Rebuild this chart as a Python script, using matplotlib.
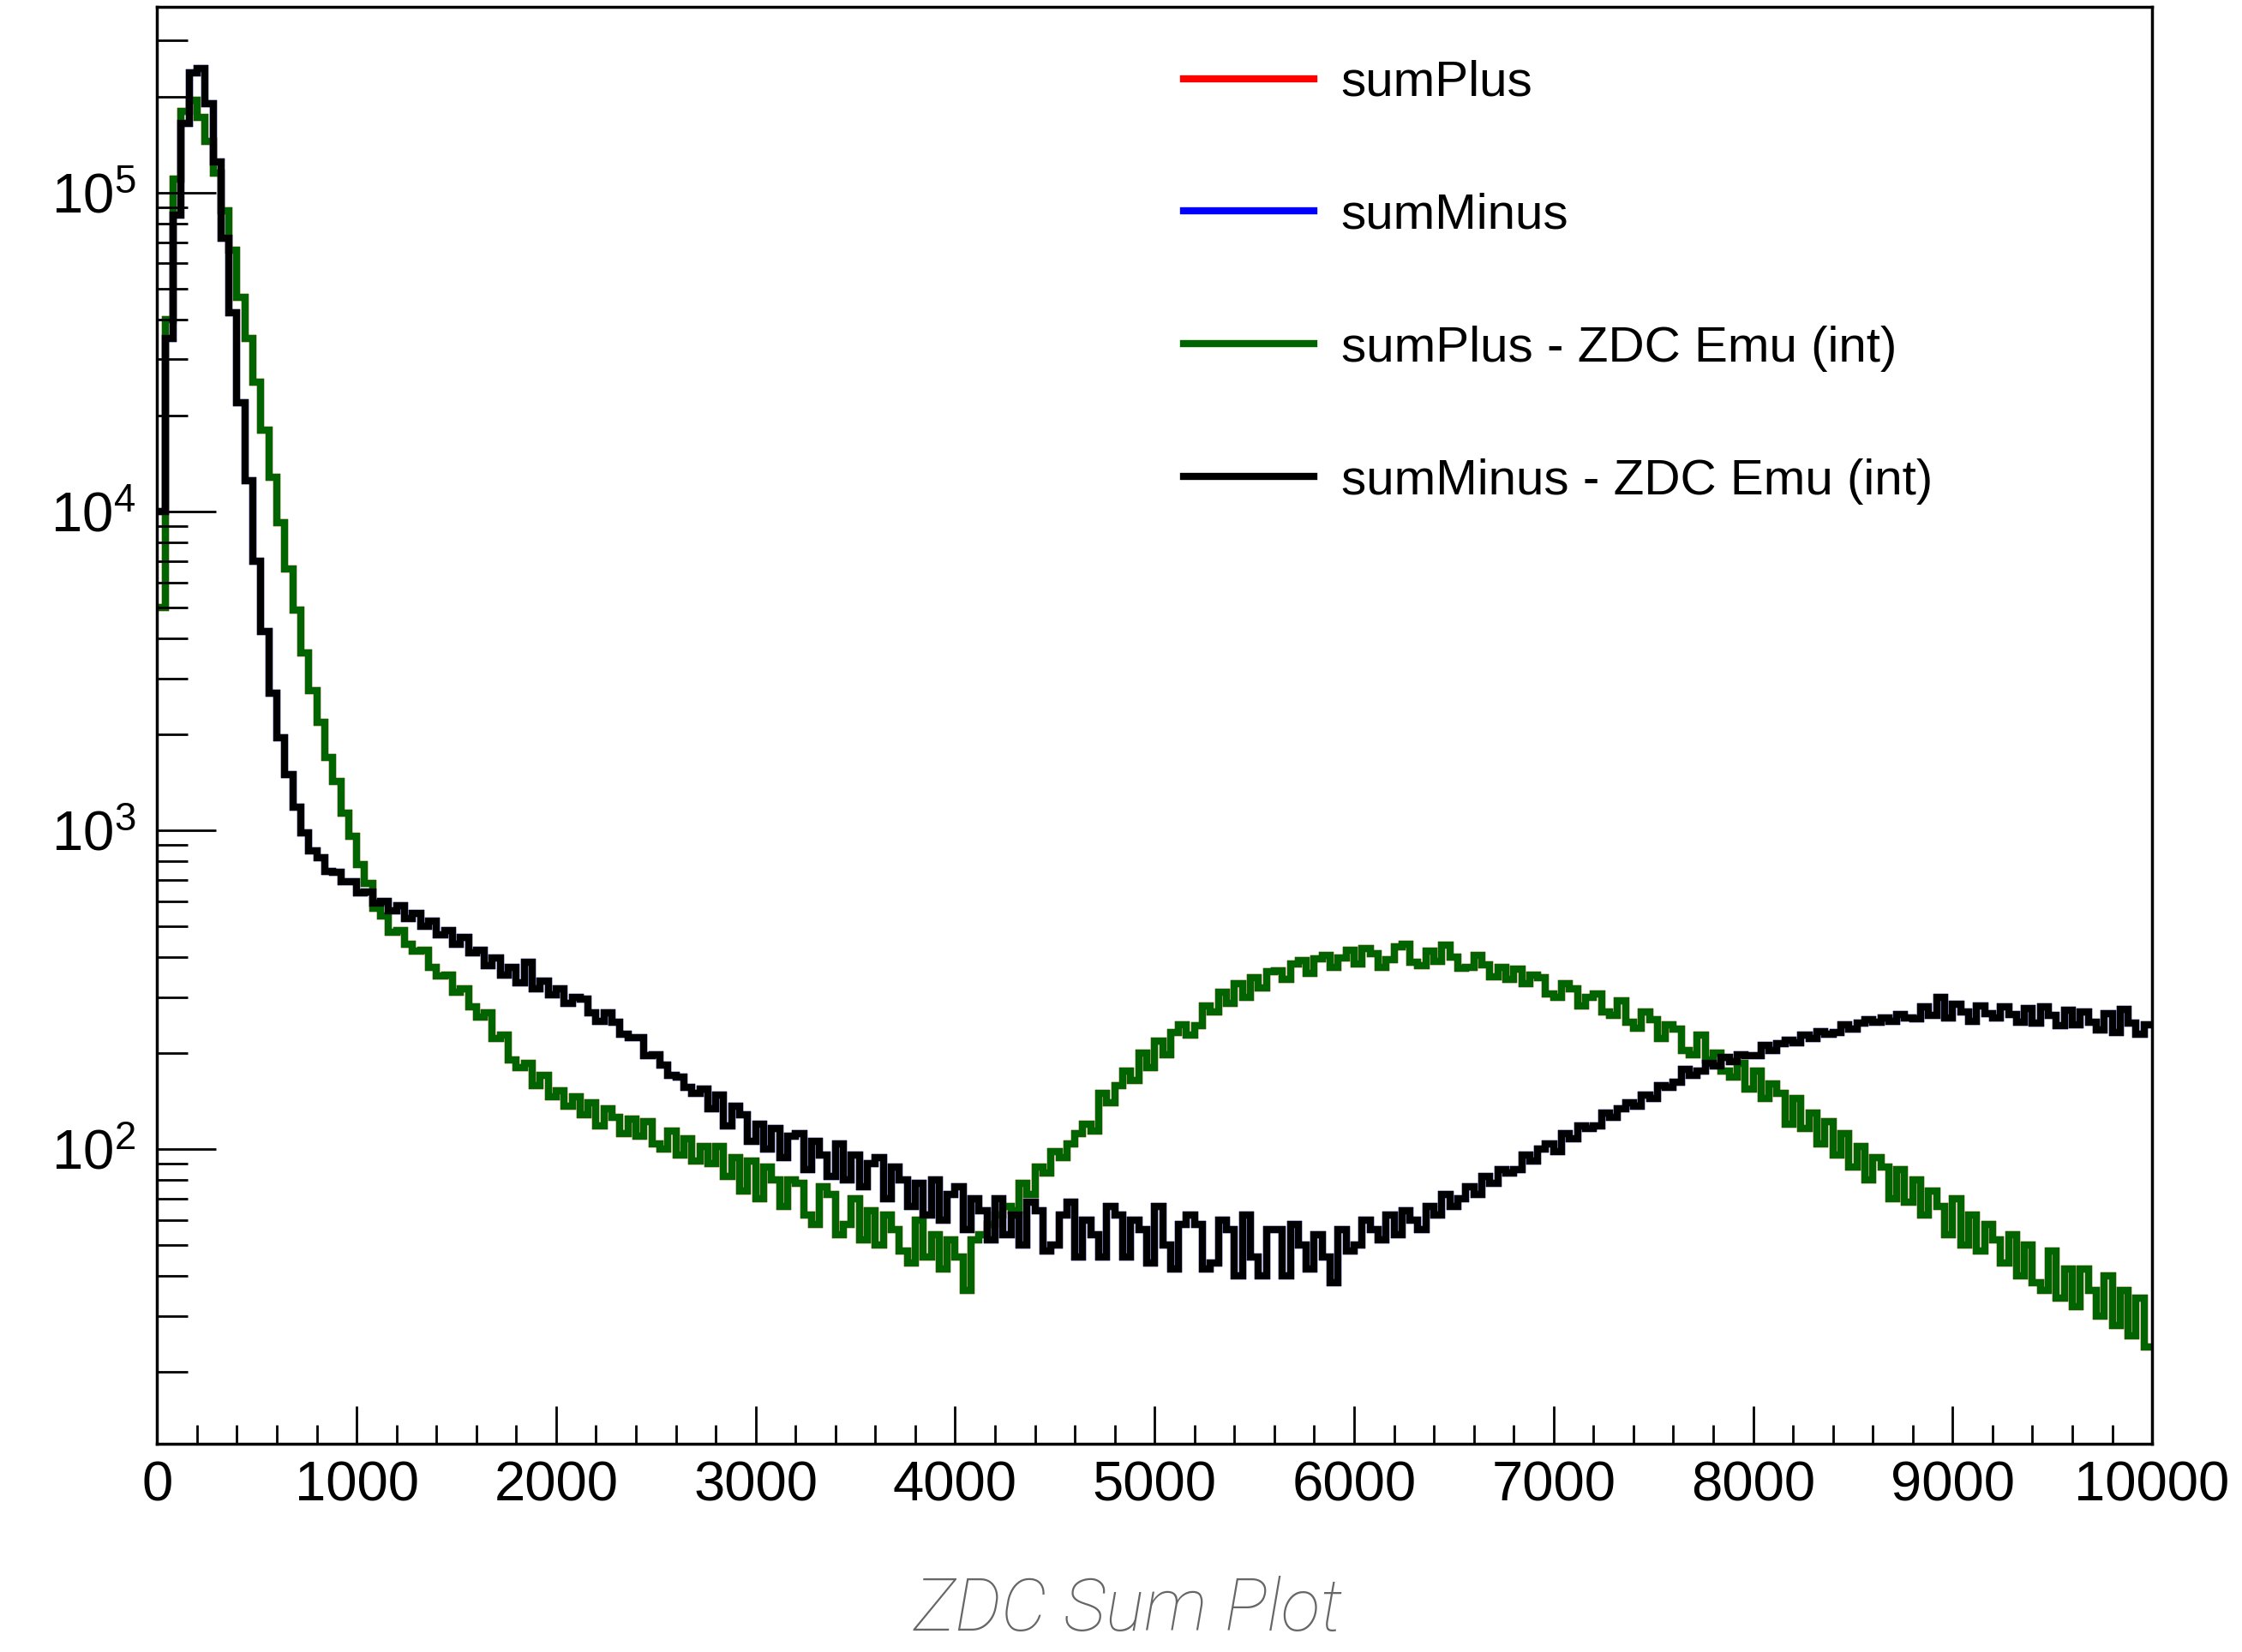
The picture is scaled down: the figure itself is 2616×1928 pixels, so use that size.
import numpy as np
import matplotlib
matplotlib.use("Agg")
import matplotlib.pyplot as plt
from matplotlib.ticker import LogLocator, MultipleLocator, NullFormatter

plt.rcParams['font.family'] = ['Liberation Sans', 'DejaVu Sans']
plt.rcParams['mathtext.fontset'] = 'custom'
plt.rcParams['mathtext.rm'] = 'Liberation Sans'

# histogram binning (ZDC sum, 250 bins over 0-10000)
bin_width = 40
x_max = 10000

# sumPlus - ZDC Emu (int), one row = 400 counts of x
sum_plus = [
    5000, 40000, 110000, 180000, 195000, 172000, 145000, 115000, 88000, 66000,
    47000, 35000, 25500, 18000, 12800, 9200, 6600, 4900, 3600, 2750,
    2180, 1690, 1420, 1130, 960, 780, 680, 570, 540, 480,
    485, 440, 418, 420, 372, 350, 352, 310, 318, 280,
    260, 268, 222, 228, 190, 180, 186, 158, 170, 146,
    152, 136, 146, 128, 140, 118, 134, 126, 112, 124,
    110, 122, 104, 100, 114, 96, 108, 92, 102, 90,
    102, 82, 94, 74, 92, 70, 88, 80, 66, 80,
    78, 62, 58, 76, 72, 54, 58, 70, 52, 64,
    50, 62, 56, 48, 44, 60, 46, 54, 42, 52,
    46, 36, 52, 54, 58, 62, 66, 64, 78, 72,
    88, 84, 98, 94, 104, 112, 120, 114, 150, 140,
    158, 176, 164, 200, 180, 218, 198, 232, 246, 228,
    244, 282, 270, 310, 286, 330, 300, 346, 320, 360,
    362, 340, 380, 390, 356, 396, 404, 372, 398, 420,
    380, 425, 410, 372, 392, 430, 440, 386, 376, 418,
    388, 436, 400, 370, 372, 404, 378, 348, 372, 340,
    366, 330, 352, 344, 306, 300, 330, 318, 282, 300,
    306, 270, 262, 292, 250, 240, 270, 254, 222, 246,
    238, 204, 198, 228, 190, 200, 176, 168, 186, 154,
    176, 144, 160, 150, 120, 144, 116, 130, 104, 122,
    96, 112, 88, 102, 80, 94, 88, 70, 86, 68,
    80, 62, 74, 66, 54, 70, 50, 62, 48, 58,
    52, 44, 54, 40, 50, 38, 36, 48, 34, 42,
    32, 42, 36, 30, 40, 28, 36, 26, 34, 24,
]

# sumMinus - ZDC Emu (int)
sum_minus = [
    10000, 35000, 85000, 165000, 238000, 245000, 190000, 125000, 72000, 42000,
    22000, 12500, 7000, 4200, 2700, 1950, 1500, 1180, 980, 860,
    820, 745, 740, 690, 688, 635, 640, 590, 600, 560,
    580, 530, 548, 500, 520, 470, 486, 440, 462, 412,
    420, 376, 398, 352, 372, 332, 386, 318, 336, 304,
    318, 286, 300, 296, 268, 252, 268, 250, 230, 224,
    224, 196, 198, 184, 170, 168, 156, 150, 154, 134,
    148, 118, 136, 128, 106, 120, 100, 116, 94, 110,
    112, 86, 106, 96, 82, 104, 80, 96, 76, 90,
    94, 70, 88, 80, 66, 78, 62, 80, 60, 72,
    76, 56, 70, 64, 52, 70, 54, 62, 50, 68,
    64, 48, 50, 62, 68, 46, 60, 54, 46, 66,
    62, 46, 60, 56, 44, 66, 50, 42, 58, 62,
    58, 42, 44, 60, 56, 40, 62, 46, 40, 56,
    56, 40, 58, 50, 42, 54, 46, 38, 56, 48,
    50, 60, 56, 52, 62, 54, 64, 60, 56, 66,
    62, 72, 66, 70, 76, 72, 82, 78, 86, 84,
    86, 96, 92, 100, 104, 98, 112, 108, 118, 116,
    118, 130, 126, 134, 140, 136, 148, 144, 158, 156,
    162, 178, 170, 176, 186, 182, 194, 188, 198, 196,
    196, 212, 204, 214, 220, 216, 228, 222, 234, 230,
    232, 246, 238, 248, 254, 250, 258, 252, 264, 258,
    256, 280, 262, 300, 258, 284, 270, 252, 282, 266,
    258, 280, 264, 250, 276, 248, 280, 262, 244, 272,
    246, 270, 250, 236, 266, 232, 274, 248, 230, 246,
]

labels = ['sumPlus', 'sumMinus', 'sumPlus - ZDC Emu (int)', 'sumMinus - ZDC Emu (int)']
colors = ['#ff0000', '#0000ff', '#006400', '#000000']

edges = np.arange(0, x_max + bin_width, bin_width)

fig = plt.figure(figsize=(26.16, 19.28), dpi=100)
ax = fig.add_axes([0.0701, 0.126, 0.8898, 0.8699])

# sumPlus / sumMinus are identical to the emulated sums and hidden below them
series = [sum_plus, sum_minus, sum_plus, sum_minus]
for vals, lab, col in zip(series, labels, colors):
    ax.stairs(vals, edges, baseline=None, color=col, lw=6, label=lab)

ax.set_yscale('log')
ax.set_xlim(0, x_max)
ax.set_ylim(11.9, 3.83e5)

ax.xaxis.set_major_locator(MultipleLocator(1000))
ax.xaxis.set_minor_locator(MultipleLocator(200))
ax.yaxis.set_major_locator(LogLocator(base=10))
ax.yaxis.set_minor_locator(LogLocator(base=10, subs=np.arange(2, 10)))
ax.yaxis.set_minor_formatter(NullFormatter())

ax.tick_params(axis='x', which='major', direction='in', length=32, width=2, labelsize=47, pad=14)
ax.tick_params(axis='x', which='minor', direction='in', length=16, width=2)
ax.tick_params(axis='y', which='major', direction='in', length=50, width=2, labelsize=47, pad=18)
ax.tick_params(axis='y', which='minor', direction='in', length=26, width=2)
ax.tick_params(top=False, right=False, which='both')

for sp in ax.spines.values():
    sp.set_linewidth(2.5)

ax.set_xlabel('ZDC Sum Plot', fontsize=61, style='italic', color='#666666',
              family=['Roboto', 'DejaVu Sans'], fontweight='light', va='baseline')
ax.xaxis.set_label_coords(0.4866, -0.1300)

ax.legend(loc='upper left', bbox_to_anchor=(0.5145, 0.963), frameon=False,
          fontsize=42, handlelength=2.6, handletextpad=0.55, labelspacing=1.73,
          borderpad=0, borderaxespad=0)

fig.savefig('out.png', dpi=100)
